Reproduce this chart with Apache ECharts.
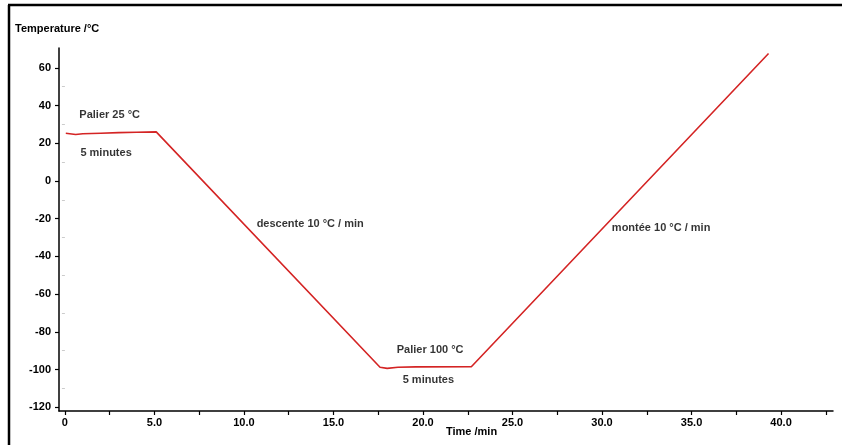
<!DOCTYPE html>
<html>
<head>
<meta charset="utf-8">
<script src="https://cdn.jsdelivr.net/npm/echarts@6/dist/echarts.min.js"></script>
<style>html,body{margin:0;padding:0;background:#fff;}#c{width:842px;height:445px;}</style>
</head>
<body>
<div id="c"></div>
<script>
// Data
var timeMin = [0.05, 0.6, 1.0, 2.0, 3.0, 4.0, 5.1, 17.6, 18.0, 18.6, 19.6, 22.7, 39.3];
var tempC   = [25.3, 24.6, 25.0, 25.3, 25.6, 25.8, 26.0, -98.8, -99.4, -98.8, -98.6, -98.5, 67.6];

var xTickLabels = [0, 5, 10, 15, 20, 25, 30, 35, 40];
var xTicks = [0, 2.5, 5, 7.5, 10, 12.5, 15, 17.5, 20, 22.5, 25, 27.5, 30, 32.5, 35, 37.5, 40, 42.5];
var yTickLabels = [-120, -100, -80, -60, -40, -20, 0, 20, 40, 60];
var yMinorTicks = [-110, -90, -70, -50, -30, -10, 10, 30, 50];

var annotationText = ['Palier 25 °C', '5 minutes', 'descente 10 °C / min', 'montée 10 °C / min', 'Palier 100 °C', '5 minutes'];
var annotationT    = [2.5, 2.3, 13.7, 33.3, 20.4, 20.3];
var annotationV    = [35, 14.9, -22.8, -25, -89.7, -105.6];

var series = timeMin.map(function (t, i) { return [t, tempC[i]]; });
var notes = annotationText.map(function (s, i) { return { value: [annotationT[i], annotationV[i]], name: s }; });

var font = 'Liberation Sans, Arial, sans-serif';
var chart = echarts.init(document.getElementById('c'), null, { renderer: 'canvas' });
chart.setOption({
  animation: false,
  backgroundColor: '#fff',
  grid: { left: 59, right: 9, top: 48, bottom: 34 },
  xAxis: [{
    type: 'value', min: -0.33, max: 42.9,
    axisLine: { show: true, onZero: false, lineStyle: { color: '#000', width: 1.5 } },
    axisTick: { show: true, length: 4, customValues: xTicks, lineStyle: { color: '#000', width: 1.2 } },
    axisLabel: { customValues: xTickLabels, color: '#000', fontWeight: 'bold', fontSize: 11, fontFamily: font, margin: 6,
      formatter: function (v) { return v === 0 ? '0' : v.toFixed(1); } },
    splitLine: { show: false }
  }],
  yAxis: [{
    type: 'value', min: -122, max: 70.5,
    axisLine: { show: true, onZero: false, lineStyle: { color: '#000', width: 1.5 } },
    axisTick: { show: true, length: 4, customValues: yTickLabels, lineStyle: { color: '#000', width: 1.2 } },
    axisLabel: { customValues: yTickLabels, color: '#000', fontWeight: 'bold', fontSize: 11, fontFamily: font, margin: 8 },
    splitLine: { show: false }
  }, {
    type: 'value', min: -122, max: 70.5, position: 'left',
    axisLine: { show: false },
    axisTick: { show: true, length: 3, customValues: yMinorTicks, lineStyle: { color: '#ccc', width: 1 } },
    axisLabel: { show: false },
    splitLine: { show: false }
  }],
  series: [{
    type: 'line', data: series, showSymbol: false, symbol: 'none',
    lineStyle: { color: '#d42424', width: 1.6 }
  }, {
    type: 'scatter', data: notes, symbolSize: 0, silent: true,
    label: { show: true, position: 'inside', formatter: '{b}', color: '#000', fontWeight: 'bold', fontSize: 11, fontFamily: font }
  }],
  graphic: [
    { type: 'line', shape: { x1: 8, y1: 5, x2: 842, y2: 5 }, style: { stroke: '#000', lineWidth: 2.5 } },
    { type: 'line', shape: { x1: 9, y1: 5, x2: 9, y2: 445 }, style: { stroke: '#000', lineWidth: 2.5 } },
    { type: 'text', left: 15, top: 23, style: { text: 'Temperature /°C', fill: '#000', font: 'bold 11px ' + font } },
    { type: 'text', left: 446, top: 426, style: { text: 'Time /min', fill: '#000', font: 'bold 11px ' + font } }
  ]
});
</script>
</body>
</html>
